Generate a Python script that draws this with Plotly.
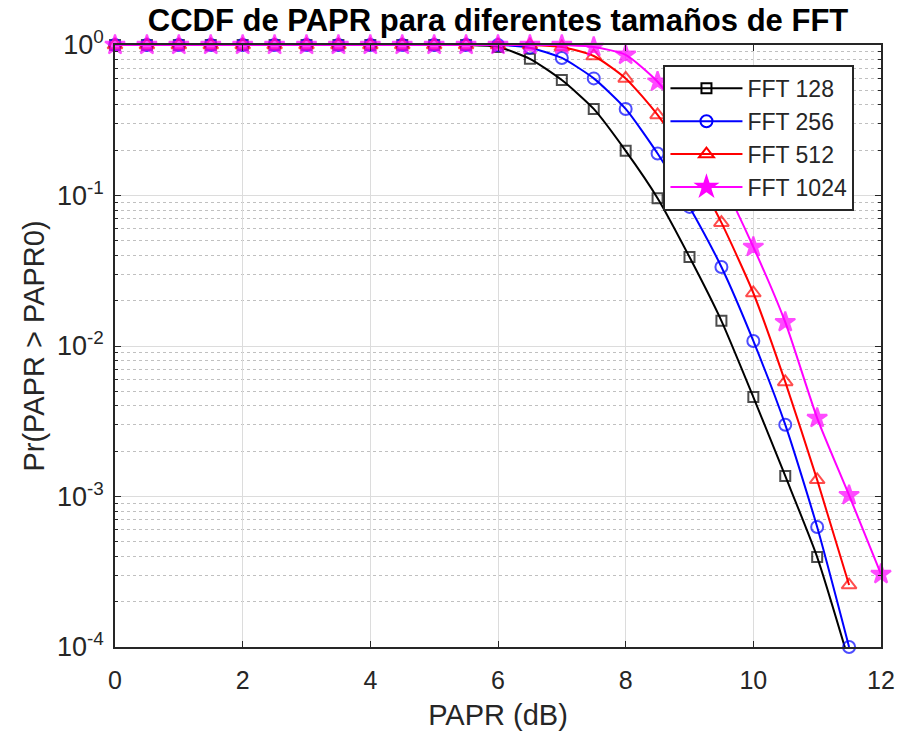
import plotly.graph_objects as go

papr_db = [0, 0.5, 1, 1.5, 2, 2.5, 3, 3.5, 4, 4.5, 5, 5.5, 6, 6.5, 7, 7.5, 8, 8.5, 9, 9.5, 10, 10.5, 11, 11.5, 12]

fft128 = [1, 1, 1, 1, 1, 1, 1, 1, 1, 1, 1, 1, 0.97, 0.81, 0.585, 0.376, 0.198, 0.096, 0.039, 0.0147, 0.00458, 0.00137, 0.000396, 0.00008, None]
fft256 = [1, 1, 1, 1, 1, 1, 1, 1, 1, 1, 1, 1, 1, 0.96, 0.82, 0.60, 0.376, 0.19, 0.084, 0.0335, 0.0108, 0.0030, 0.000627, 0.0001, None]
fft512 = [1, 1, 1, 1, 1, 1, 1, 1, 1, 1, 1, 1, 1, 1, 0.97, 0.845, 0.60, 0.343, 0.166, 0.066, 0.0225, 0.00577, 0.00129, 0.000258, None]
fft1024 = [1, 1, 1, 1, 1, 1, 1, 1, 1, 1, 1, 1, 1, 1, 1, 0.97, 0.86, 0.57, 0.30, 0.126, 0.0455, 0.0144, 0.00332, 0.00102, 0.000305]

series = [
    ("FFT 128", fft128, "black", "square-open", 10),
    ("FFT 256", fft256, "blue", "circle-open", 12),
    ("FFT 512", fft512, "red", "triangle-up-open", 13),
    ("FFT 1024", fft1024, "magenta", "star", 15),
]

Y_MIN = 1e-4

fig = go.Figure()
for name, ys, color, sym, sz in series:
    sizes = [sz if (v is not None and v >= Y_MIN * 0.999) else 0 for v in ys]
    fig.add_trace(go.Scatter(
        x=papr_db, y=ys, name=name, mode="lines+markers", legendgroup=name,
        showlegend=False,
        line=dict(color=color, width=2, shape="spline", smoothing=0.6),
        marker=dict(symbol=sym, size=sizes, color=color, line=dict(color=color, width=2)),
        cliponaxis=False,
    ))
# legend entries (no data) so the legend symbols keep a fixed marker size
for name, ys, color, sym, sz in series:
    fig.add_trace(go.Scatter(
        x=[None], y=[None], name=name, mode="lines+markers", legendgroup=name,
        line=dict(color=color, width=2),
        marker=dict(symbol=sym, size=sz, color=color, line=dict(color=color, width=2)),
    ))

minor_vals = [m * 10.0 ** e for e in range(-4, 0) for m in range(2, 10)]
font = "Liberation Sans, Arial, sans-serif"

fig.update_layout(
    width=907, height=738,
    margin=dict(l=115, r=15, t=45, b=91),
    paper_bgcolor="white", plot_bgcolor="white",
    font=dict(family=font, size=25, color="#262626"),
    title=dict(text="<b>CCDF de PAPR para diferentes tamaños de FFT</b>",
               x=0.5, xanchor="center", xref="paper",
               y=1 - 20 / 738, yanchor="middle", yref="container",
               font=dict(size=31, color="black", family=font)),
    showlegend=True,
    legend=dict(x=0.716, y=0.967, xanchor="left", yanchor="top",
                bgcolor="white", bordercolor="#262626", borderwidth=2,
                font=dict(size=23, color="#262626"), itemwidth=72,
                tracegroupgap=0),
    xaxis=dict(
        range=[0, 12], tickvals=[0, 2, 4, 6, 8, 10, 12],
        title=dict(text="PAPR (dB)", font=dict(size=29), standoff=12),
        showgrid=True, gridcolor="#dcdcdc", gridwidth=1,
        ticks="inside", ticklen=6, tickcolor="#262626",
        ticklabelstandoff=10,
        showline=True, linecolor="#262626", linewidth=1.5, mirror="ticks",
        zeroline=False,
    ),
    yaxis=dict(
        type="log", range=[-4, 0],
        tickvals=[1e-4, 1e-3, 1e-2, 1e-1, 1],
        ticktext=["10<sup>-4</sup>", "10<sup>-3</sup>", "10<sup>-2</sup>", "10<sup>-1</sup>", "10<sup>0</sup>"],
        tickfont=dict(size=27),
        title=dict(text="Pr(PAPR > PAPR0)", font=dict(size=29), standoff=4),
        showgrid=True, gridcolor="#dcdcdc", gridwidth=1,
        ticks="inside", ticklen=6, tickcolor="#262626",
        ticklabelstandoff=4,
        showline=True, linecolor="#262626", linewidth=1.5, mirror="ticks",
        minor=dict(tickmode="array", tickvals=minor_vals, ticks="inside", ticklen=3,
                   tickcolor="#262626", showgrid=True, gridcolor="#c0c0c0",
                   griddash="dot", gridwidth=1),
        zeroline=False,
    ),
)

fig.write_html("out.html")
